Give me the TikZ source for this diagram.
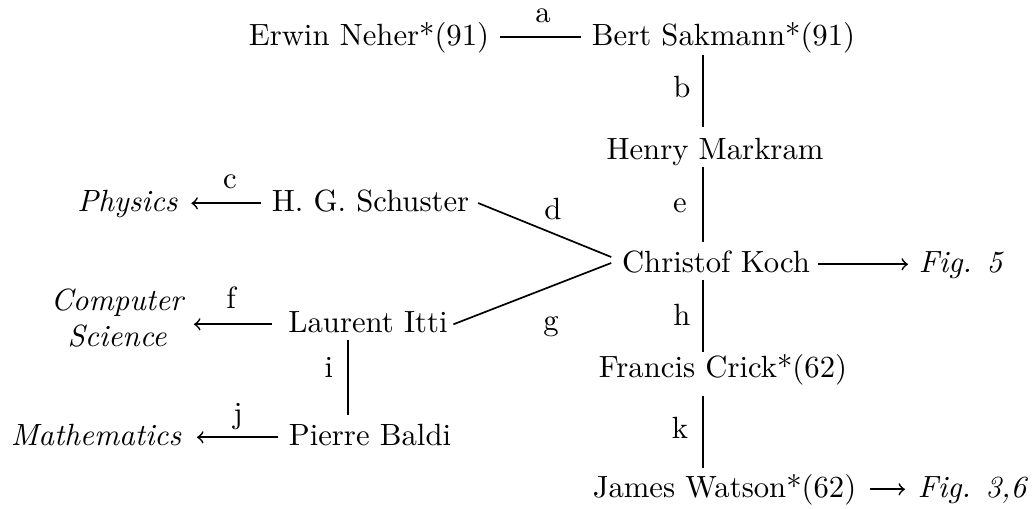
\documentclass[tikz,border=0pt]{standalone}
\usetikzlibrary{calc}
\begin{document}
\begin{tikzpicture}[x=0.3257pt,y=-0.3257pt,
  nm/.style={inner sep=3.33pt, anchor=base},
  lab/.style={inner sep=0pt, anchor=base},
  ln/.style={line width=0.55pt},
  ar/.style={line width=0.55pt,->}]
\useasboundingbox (0,0) rectangle (1032,508);
% people
\node[nm] (neher) at (369,45) {Erwin Neher*(91)};
\node[nm] (sakmann) at (723.5,45) {Bert Sakmann*(91)};
\node[nm] (markram) at (715,159) {Henry Markram};
\node[nm] (koch) at (716,272) {Christof Koch};
\node[nm] (crick) at (723,377) {Francis Crick*(62)};
\node[nm] (watson) at (724.5,497) {James Watson*(62)};
\node[nm] (schuster) at (370.5,211) {H. G. Schuster};
\node[nm] (itti) at (368,332) {Laurent Itti};
\node[nm] (baldi) at (370,445) {Pierre Baldi};
% fields / figures
\node[nm,anchor=base west] (fig5) at (908,272) {\itshape Fig. 5};
\node[nm,anchor=base west] (fig36) at (907,497) {\itshape Fig. 3,6};
\node[nm] (physics) at (127.5,211) {\itshape Physics};
\node[inner sep=3.33pt, align=center, font=\itshape] (compsci) at (117,318) {Computer\\Science};
\node[nm] (math) at (96,445) {\itshape Mathematics};
% column lines
\coordinate (colR) at (703,0);
\coordinate (colL) at (348,0);
% connectors
\draw[ln] ([yshift=2.5pt]neher.base east) -- ([yshift=2.5pt]sakmann.base west);
\draw[ln] ($(sakmann.base -| colR)+(0,10)$) -- ($(markram.base -| colR)+(0,-32)$);
\draw[ln] ($(markram.base -| colR)+(0,8)$) -- ($(koch.base -| colR)+(0,-30)$);
\draw[ln] ($(koch.base -| colR)+(0,8)$) -- ($(crick.base -| colR)+(0,-25)$);
\draw[ln] ($(crick.base -| colR)+(0,19)$) -- ($(watson.base -| colR)+(0,-29)$);
\draw[ln] ($(itti.base -| colL)+(0,8)$) -- ($(baldi.base -| colL)+(0,-30)$);
\draw[ln] ($(schuster.base east)+(-2,-8)$) -- ($(koch.base west)+(0,-15)$);
\draw[ln] ($(itti.base east)+(-5,-7.7)$) -- ($(koch.base west)+(0,-9)$);
\draw[ar] ($(schuster.base west)+(0,-7.7)$) -- ($(physics.base east)+(3,-7.7)$);
\draw[ar] ($(itti.base west)+(-6,-7.7)$) -- ($(compsci.east |- itti.base)+(0,-7.7)$);
\draw[ar] ($(baldi.base west)+(0,-7.7)$) -- ($(math.base east)+(5,-7.7)$);
\draw[ar] ($(koch.base east)+(-3,-7.7)$) -- ($(fig5.base west)+(0,-7.7)$);
\draw[ar] ($(watson.base east)+(3,-7.7)$) -- ($(fig36.base west)+(-2,-7.7)$);
% connector labels
\node[lab] (la) at (543,22) {a};
\node[lab] (lb) at (682,97) {b};
\node[lab] (lc) at (230,188) {c};
\node[lab] (ld) at (553,219) {d};
\node[lab] (le) at (680,212) {e};
\node[lab] (lf) at (231,308) {f};
\node[lab] (lg) at (551,330) {g};
\node[lab] (lh) at (682,325) {h};
\node[lab] (li) at (329,377) {i};
\node[lab] (lj) at (238,423) {j};
\node[lab] (lk) at (680,438) {k};
\end{tikzpicture}
\end{document}
